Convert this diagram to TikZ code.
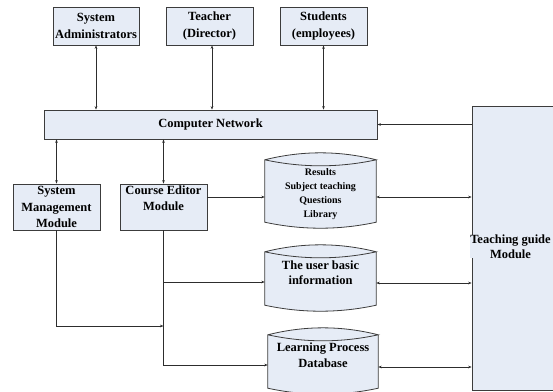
\documentclass[tikz,border=0pt]{standalone}
\usepackage{fontspec}
\setmainfont{Liberation Serif}
\usetikzlibrary{arrows.meta,calc}
\definecolor{boxfill}{RGB}{230,236,246}
\definecolor{boxline}{RGB}{60,60,60}
\definecolor{wire}{RGB}{45,45,45}
\newcommand{\mydbshape}[1]{%
  \fill[boxfill] (#1.north west) .. controls +(37,-9.3) and +(-37,-9.3) .. (#1.north east) -- (#1.south east) .. controls +(-37,8) and +(37,8) .. (#1.south west) -- cycle;
  \draw[boxline,line width=0.8pt] (#1.north west) .. controls +(37,-9.3) and +(-37,-9.3) .. (#1.north east) .. controls +(-37,8) and +(37,8) .. (#1.north west) -- (#1.south west) .. controls +(37,8) and +(-37,8) .. (#1.south east) -- (#1.north east);
}
\begin{document}
\begin{tikzpicture}[x=1pt,y=-1pt,
  box/.style={draw=boxline,fill=boxfill,line width=0.8pt,rectangle,inner sep=0pt,align=center,
    font=\fontsize{12.5}{17}\selectfont\bfseries},
  dbbody/.style={rectangle,inner sep=0pt},
  dbtext/.style={inner sep=0pt,align=center,font=\fontsize{12.5}{16}\selectfont\bfseries},
  arr/.style={draw=wire,line width=0.7pt,-{Stealth[length=3.5pt,width=2.6pt]}},
  dbl/.style={draw=wire,line width=0.7pt,{Stealth[length=3.5pt,width=2.6pt]}-{Stealth[length=3.5pt,width=2.6pt]}},
  ln/.style={draw=wire,line width=0.7pt}]
\useasboundingbox (0,0) rectangle (553,391);
\clip (0,0) rectangle (553,391);
\fill[white] (0,0) rectangle (553,391);
% top boxes
\node[box,minimum width=86pt,minimum height=38pt] (sa) at (96,26) {System\\Administrators};
\node[box,minimum width=87pt,minimum height=38pt] (te) at (209.5,26) {Teacher\\(Director)};
\node[box,minimum width=87pt,minimum height=38pt] (st) at (323.5,26) {Students\\(employees)};
% network
\node[box,minimum width=333pt,minimum height=29pt] (net) at (210.5,124.5) {Computer Network};
% modules
\node[box,minimum width=87pt,minimum height=46pt,font=\fontsize{12.5}{16.5}\selectfont\bfseries] (sm) at (56.5,207) {System\\Management\\Module};
\node[box,minimum width=87pt,minimum height=46pt,font=\fontsize{12.5}{16}\selectfont\bfseries] (ce) at (163.5,207) {Course Editor\\Module\\[2pt]};
% teaching guide
\node[box,minimum width=88pt,minimum height=284pt] (tg) at (516,248) {};
\node[inner sep=0pt,fill=boxfill,align=center,font=\fontsize{12.5}{15}\selectfont\bfseries] (tgt) at (510.5,246.5) {Teaching guide\\Module};
% databases
\node[dbbody,minimum width=111pt,minimum height=62pt] (c1) at (320.5,191) {};
\node[dbbody,minimum width=111pt,minimum height=53pt] (c2) at (320.5,278.5) {};
\node[dbbody,minimum width=110pt,minimum height=53pt] (c3) at (323,361.5) {};
\mydbshape{c1}
\mydbshape{c2}
\mydbshape{c3}
\node[dbtext,font=\fontsize{10}{14}\selectfont\bfseries] (c1t) at (320.5,194) {Results\\Subject teaching\\Questions\\Library};
\node[dbtext,font=\fontsize{12.5}{15}\selectfont\bfseries] (c2t) at (320.5,272.5) {The user basic\\information};
\node[dbtext] (c3t) at (323,355) {Learning Process\\Database};
% connectors top
\draw[dbl] (sa.south) -- (sa.south |- net.north);
\draw[dbl] ([xshift=2.5pt]te.south) -- ([xshift=2.5pt]te.south |- net.north);
\draw[dbl] (st.south) -- (st.south |- net.north);
\draw[dbl] (sm.north |- net.south) -- (sm.north);
\draw[dbl] (ce.north |- net.south) -- (ce.north);
\draw[arr] (tg.west |- net.east) -- (net.east);
% course editor to databases
\coordinate (a1) at ([yshift=10pt]ce.east);
\draw[arr] (a1) -- (a1 -| c1.west);
\coordinate (b2) at ([yshift=-3.5pt]c2.west);
\coordinate (b3) at ([yshift=-3.5pt]c3.west);
\draw[arr] (ce.south) |- (b3);
\draw[arr] (ce.south |- b2) -- (b2);
\coordinate (j) at (ce.south |- 0,326);
\draw[arr] (sm.south) |- (j);
% databases to teaching guide
\coordinate (r1) at ([yshift=-6pt]c1.east);
\coordinate (r2) at ([yshift=-4.5pt]c2.east);
\coordinate (r3) at ([yshift=-5.5pt]c3.east);
\draw[dbl] (r1) -- (r1 -| tg.west);
\draw[dbl] (r2) -- (r2 -| tg.west);
\draw[dbl] (r3) -- (r3 -| tg.west);
\end{tikzpicture}
\end{document}
